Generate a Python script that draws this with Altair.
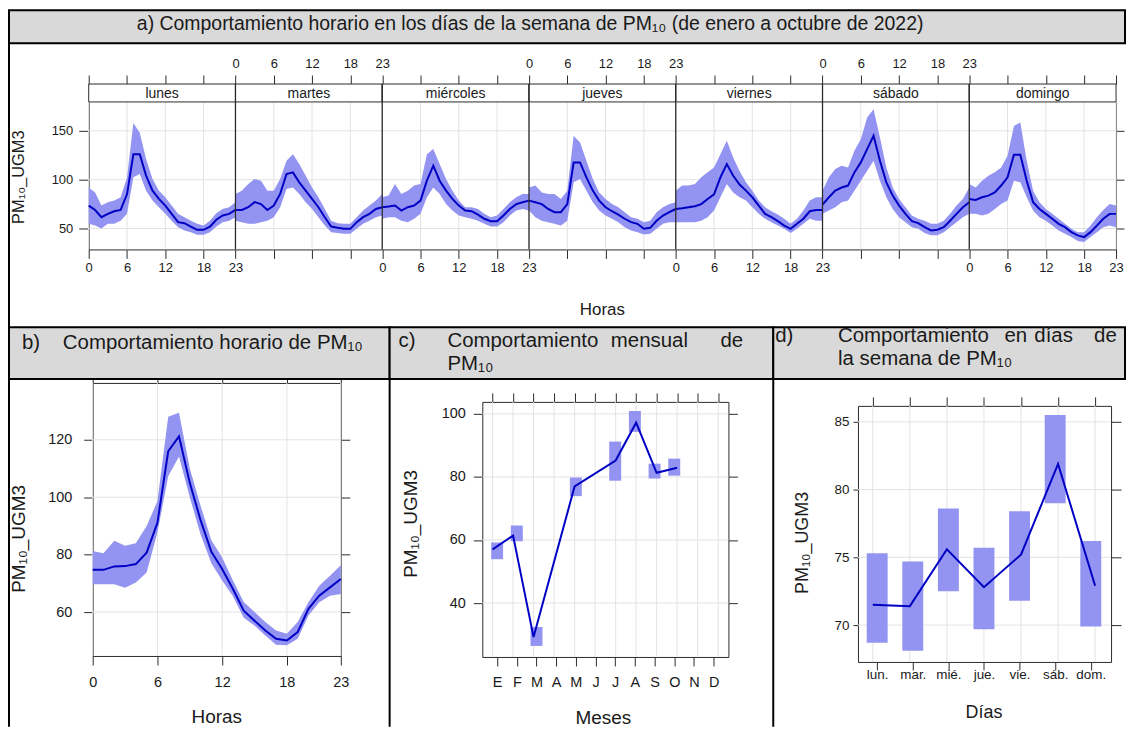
import json
import altair as alt
import pandas as pd

W, H = 1122, 720
FONT = "Liberation Sans, Arial, sans-serif"
BAND = "#9393f2"
LINE = "#0000c4"
FRAME = "#2b2b2b"
GRID = "#e3e3e3"
HEAD = "#d9d9d9"
TXT = "#1a1a1a"

# ---------------- data ----------------
dias = ["lunes", "martes", "miércoles", "jueves", "viernes", "sábado", "domingo"]
dias_cortos = ["lun.", "mar.", "mié.", "jue.", "vie.", "sáb.", "dom."]
meses_letras = ["E", "F", "M", "A", "M", "J", "J", "A", "S", "O", "N", "D"]
horas = list(range(24))

lunes_media = [73.5, 69.0, 61.6, 65.0, 67.7, 69.0, 85.0, 126.0, 126.0, 104.0, 88.8, 80.3, 73.5, 65.0, 56.5, 55.5, 52.0, 48.7, 48.7, 52.0, 59.0, 63.3, 65.0, 69.0]
lunes_inf = [54.8, 53.0, 50.0, 54.8, 54.8, 58.0, 65.0, 102.4, 105.8, 88.8, 78.6, 71.8, 65.0, 58.0, 51.4, 48.0, 46.3, 43.6, 43.6, 46.3, 52.0, 56.5, 58.0, 61.6]
lunes_sup = [92.0, 87.0, 73.5, 77.0, 78.6, 82.0, 102.0, 158.0, 148.0, 121.0, 100.7, 88.8, 82.0, 73.5, 65.0, 61.6, 58.0, 54.8, 53.0, 58.0, 65.7, 70.0, 71.8, 77.0]

martes_media = [69.0, 69.0, 71.8, 77.0, 75.0, 69.0, 73.5, 85.4, 105.8, 107.5, 97.3, 88.8, 80.3, 71.8, 61.6, 52.0, 50.7, 49.7, 49.7, 56.5, 61.6, 65.0, 70.0, 71.8]
martes_inf = [58.0, 56.5, 54.8, 54.8, 56.5, 58.0, 61.6, 71.8, 90.5, 92.0, 85.4, 77.0, 70.0, 61.6, 53.0, 46.3, 45.3, 44.6, 44.6, 49.7, 54.8, 58.0, 61.6, 63.3]
martes_sup = [85.4, 88.8, 95.6, 100.7, 99.0, 88.8, 88.8, 100.7, 119.4, 126.0, 116.0, 104.0, 92.0, 82.0, 70.0, 58.0, 55.5, 54.8, 54.8, 61.6, 68.4, 73.5, 78.6, 85.4]

miercoles_media = [71.8, 72.5, 73.5, 68.4, 71.8, 73.5, 78.6, 99.0, 114.3, 99.0, 88.8, 80.3, 73.5, 68.4, 67.7, 64.3, 60.0, 57.5, 57.5, 63.3, 70.0, 75.0, 76.9, 78.6]
miercoles_inf = [60.0, 61.6, 61.6, 58.0, 56.5, 60.0, 65.0, 82.0, 92.0, 85.4, 75.0, 68.4, 63.3, 61.6, 60.0, 58.0, 54.8, 52.0, 52.0, 56.5, 63.3, 68.4, 70.0, 68.4]
miercoles_sup = [82.0, 83.7, 95.6, 85.4, 88.8, 94.0, 95.6, 126.0, 131.3, 116.0, 100.7, 88.8, 78.6, 71.8, 71.8, 70.0, 65.0, 61.6, 63.3, 70.0, 77.0, 82.0, 85.4, 85.4]

jueves_media = [78.6, 76.9, 75.0, 70.0, 66.7, 66.7, 75.0, 117.7, 117.7, 102.4, 88.8, 78.6, 71.8, 67.7, 64.3, 60.0, 56.5, 54.8, 49.7, 50.7, 58.0, 63.3, 66.7, 70.0]
jueves_inf = [68.4, 61.6, 58.0, 56.5, 54.8, 53.0, 58.0, 97.3, 100.7, 88.8, 77.0, 68.4, 63.3, 60.0, 56.5, 51.4, 48.0, 46.3, 44.0, 44.6, 49.7, 54.8, 56.5, 56.5]
jueves_sup = [92.0, 94.0, 87.0, 85.4, 85.4, 80.3, 88.8, 145.0, 138.0, 119.4, 100.7, 87.0, 80.3, 75.0, 71.8, 66.7, 61.6, 60.0, 56.5, 58.0, 66.7, 71.8, 75.0, 76.9]

viernes_media = [70.0, 70.8, 71.8, 72.8, 75.0, 80.3, 85.0, 102.4, 116.0, 104.0, 95.0, 88.8, 82.0, 73.5, 65.0, 61.6, 57.5, 53.0, 49.7, 54.8, 60.0, 67.7, 69.0, 69.0]
viernes_inf = [56.5, 56.5, 56.5, 56.5, 58.0, 61.6, 68.4, 82.0, 95.6, 87.0, 82.0, 78.6, 71.8, 65.0, 60.0, 56.5, 53.0, 49.7, 45.3, 49.7, 54.8, 60.0, 58.0, 58.0]
viernes_sup = [88.8, 94.0, 94.0, 95.6, 102.4, 107.5, 112.6, 126.0, 140.0, 122.8, 109.0, 97.3, 88.8, 78.6, 71.8, 67.7, 64.3, 60.0, 54.8, 60.0, 68.4, 78.6, 82.0, 82.0]

sabado_media = [74.5, 82.0, 88.8, 92.0, 94.0, 107.5, 117.7, 131.3, 145.0, 119.4, 97.3, 83.7, 73.5, 65.0, 57.5, 55.5, 51.4, 48.0, 48.7, 51.4, 58.0, 65.0, 71.8, 76.9]
sabado_inf = [65.0, 68.4, 71.8, 77.0, 78.6, 88.8, 99.0, 109.2, 119.4, 99.0, 82.0, 70.0, 61.6, 56.5, 51.4, 49.7, 45.3, 43.0, 43.0, 46.3, 51.4, 56.5, 61.6, 65.0]
sabado_sup = [88.8, 102.4, 111.0, 114.3, 112.6, 129.6, 141.5, 163.6, 172.0, 143.2, 112.6, 92.0, 80.3, 71.8, 63.3, 60.0, 58.0, 54.8, 54.8, 58.0, 65.0, 73.5, 80.3, 92.0]

domingo_media = [80.3, 79.3, 82.0, 83.7, 87.0, 94.0, 102.4, 125.5, 125.5, 99.0, 77.0, 70.0, 65.0, 60.0, 54.8, 51.4, 46.3, 43.0, 41.2, 46.3, 53.0, 60.0, 65.0, 65.0]
domingo_inf = [65.0, 65.0, 63.3, 65.0, 70.0, 75.0, 78.6, 99.0, 97.3, 82.0, 68.4, 61.6, 58.0, 53.0, 48.0, 44.6, 41.2, 37.1, 36.1, 41.2, 46.3, 51.4, 53.0, 51.4]
domingo_sup = [95.6, 92.0, 99.0, 104.0, 107.5, 112.6, 124.5, 155.0, 158.5, 119.4, 88.8, 77.0, 70.0, 65.0, 60.0, 54.8, 49.7, 46.3, 46.3, 53.0, 61.6, 69.0, 75.0, 73.5]

# panel b: hourly
b_media = [74.7, 74.7, 75.9, 76.0, 76.7, 80.7, 91.1, 116.0, 121.2, 105.0, 92.0, 81.0, 75.0, 68.0, 60.5, 57.0, 53.6, 50.7, 50.1, 53.0, 61.1, 65.7, 68.6, 71.5]
b_inf = [69.7, 69.7, 69.7, 68.5, 70.3, 73.8, 87.7, 107.3, 114.2, 100.0, 87.0, 77.0, 71.0, 65.5, 58.0, 55.3, 51.8, 48.6, 48.4, 50.7, 58.8, 63.4, 65.7, 66.3]
b_sup = [81.3, 80.5, 84.8, 83.1, 84.0, 90.0, 98.6, 128.0, 129.4, 110.0, 97.0, 85.0, 79.0, 71.0, 63.5, 60.0, 56.5, 53.6, 52.4, 56.5, 63.4, 69.2, 72.6, 76.3]

# panel c: monthly
c_media = [57.0, 61.4, 29.2, None, 77.0, None, 85.2, 97.2, 81.3, 82.9, None, None]
c_inf = [53.9, 59.6, 26.4, None, 73.9, None, 78.8, 94.3, 79.5, 80.4, None, None]
c_sup = [59.2, 64.6, 32.4, None, 79.8, None, 91.2, 100.9, 84.2, 85.8, None, None]

# panel d: weekday
d_media = [71.5, 71.4, 75.6, 72.8, 75.2, 81.9, 72.9]
d_inf = [68.7, 68.1, 72.5, 69.7, 71.8, 79.0, 69.9]
d_sup = [75.3, 74.7, 78.6, 75.7, 78.4, 85.5, 76.2]

# tick values and axis limits
ticks_a_x = sorted(set(d * 23 + t for d in range(7) for t in (0, 6, 12, 18, 23)))
ticks_a_y = [50, 100, 150]
ticks_b_x = [0, 6, 12, 18, 23]
ticks_b_y = [60, 80, 100, 120]
ticks_c_x = list(range(1, 13))
ticks_c_y = [40, 60, 80, 100]
ticks_d_x = list(range(1, 8))
ticks_d_y = [70, 75, 80, 85]
lim_a_x, lim_a_y = [0, 161], [28.6, 179.6]
lim_b_x, lim_b_y = [0, 23], [44.7, 139.8]
lim_c_x, lim_c_y = [0.5, 12.5], [22.9, 103.8]
lim_d_x, lim_d_y = [0.6, 7.43], [67.28, 86.18]

# ---------------- tables ----------------
series_a = [
    (lunes_media, lunes_inf, lunes_sup),
    (martes_media, martes_inf, martes_sup),
    (miercoles_media, miercoles_inf, miercoles_sup),
    (jueves_media, jueves_inf, jueves_sup),
    (viernes_media, viernes_inf, viernes_sup),
    (sabado_media, sabado_inf, sabado_sup),
    (domingo_media, domingo_inf, domingo_sup),
]
rows = []
for d, (m, lo, hi) in enumerate(series_a):
    for h in horas:
        rows.append({"dia": dias[d], "d": d, "hora": h, "media": m[h], "inf": lo[h], "sup": hi[h]})
df_a = pd.DataFrame(rows)
df_strip = pd.DataFrame({"dia": dias, "d": list(range(7))})
df_b = pd.DataFrame({"hora": horas, "media": b_media, "inf": b_inf, "sup": b_sup})
df_c = pd.DataFrame({"mes": list(range(1, 13)), "media": c_media, "inf": c_inf, "sup": c_sup}).dropna()
df_d = pd.DataFrame({"dia": list(range(1, 8)), "media": d_media, "inf": d_inf, "sup": d_sup})
one = pd.DataFrame({"k": [0]})


# ---------------- helpers ----------------
def ax(orient, pos, values, labels=True, tick=9, pad=4, size=13, expr=None,
       title="", tsize=17, tx=None, ty=None):
    if orient in ("left", "top"):
        off = -pos
    elif orient == "right":
        off = pos - W
    else:
        off = pos - H
    kw = dict(orient=orient, offset=off, values=values, labels=labels, grid=False,
              gridOpacity=0, gridColor="transparent",
              ticks=True, tickSize=tick, tickColor=FRAME, tickWidth=1,
              labelPadding=pad, labelFontSize=size, labelFont=FONT, labelColor=TXT,
              labelOverlap=False, labelFlush=False,
              domain=True, domainColor=FRAME, domainWidth=1, title=title)
    if expr:
        kw["labelExpr"] = expr
    if title:
        kw.update(titleFontSize=tsize, titleFont=FONT, titleFontWeight="normal",
                  titleColor=TXT, titleX=tx, titleY=ty, titleBaseline="middle",
                  titleAlign="center")
    return alt.Axis(**kw)


def grid(xvals, xs, xlim, yvals, ys, ylim):
    dfx = pd.DataFrame({"v": xvals, "lo": ylim[0], "hi": ylim[1]})
    dfy = pd.DataFrame({"v": yvals, "lo": xlim[0], "hi": xlim[1]})
    gx = alt.Chart(dfx).mark_rule(color=GRID, strokeWidth=1).encode(
        x=alt.X("v:Q", scale=xs, axis=None),
        y=alt.Y("lo:Q", scale=ys, axis=None), y2="hi:Q")
    gy = alt.Chart(dfy).mark_rule(color=GRID, strokeWidth=1).encode(
        y=alt.Y("v:Q", scale=ys, axis=None),
        x=alt.X("lo:Q", scale=xs, axis=None), x2="hi:Q")
    return [gx, gy]


def rect(x, x2, y, y2, **mk):
    return alt.Chart(one).mark_rect(**mk).encode(
        x=alt.value(x), x2=alt.value(x2), y=alt.value(y), y2=alt.value(y2))


def txt(s, x, y, size, align="left"):
    return alt.Chart(one).mark_text(text=s, font=FONT, fontSize=size, align=align,
                                    baseline="middle", color=TXT).encode(
        x=alt.value(x), y=alt.value(y))


def vline(x, y, y2, w=2):
    return alt.Chart(one).mark_rule(color="black", strokeWidth=w).encode(
        x=alt.value(x), y=alt.value(y), y2=alt.value(y2))


YT = "PM₁₀_UGM3"

# ---------------- panel a ----------------
A_L, A_R, A_T, A_S, A_B = 81, 1112, 75, 93, 241
xa = alt.Scale(domain=lim_a_x, range=[A_L, A_R], nice=False, zero=False)
ya = alt.Scale(domain=lim_a_y, range=[A_B, A_S], nice=False, zero=False)
lab_bot = ("(floor(datum.value / 23) % 2 == 0 || datum.value % 23 == 0) ? "
           "(datum.value % 23 == 0 ? ((datum.value / 23) % 2 == 0 ? '0' : '23') : '' + (datum.value % 23)) : ''")
lab_top = ("((floor(datum.value / 23) % 2 == 1 && datum.value % 23 != 0) || "
           "(datum.value % 23 == 0 && datum.value > 0 && datum.value < 161)) ? "
           "(datum.value % 23 == 0 ? ((datum.value / 23) % 2 == 1 ? '0' : '23') : '' + (datum.value % 23)) : ''")

base_a = alt.Chart(df_a).transform_calculate(xg="datum.d * 23 + datum.hora")
band_a = base_a.mark_area(color=BAND, opacity=1).encode(
    x=alt.X("xg:Q", scale=xa, axis=ax("bottom", A_B, ticks_a_x, tick=9, pad=3, size=13,
                                       expr=lab_bot, title="Horas", tsize=17, tx=596, ty=60)),
    y=alt.Y("inf:Q", scale=ya, axis=ax("left", A_L, ticks_a_y, tick=10, pad=6,
                                        size=13, title=YT, tsize=16.5, tx=-70, ty=168)),
    y2="sup:Q", detail="dia:N")
line_a = base_a.mark_line(color=LINE, strokeWidth=2).encode(
    x=alt.X("xg:Q", scale=xa, axis=ax("top", A_T, ticks_a_x, tick=9, pad=5, size=13, expr=lab_top)),
    y=alt.Y("media:Q", scale=ya, axis=ax("right", A_R, ticks_a_y, labels=False, tick=8)),
    detail="dia:N")
base_s = alt.Chart(df_strip).transform_calculate(
    ini="datum.d * 23", fin="datum.d * 23 + 23", centro="datum.d * 23 + 11.5")
strip_a = base_s.mark_rect(fill="white", stroke=FRAME, strokeWidth=1).encode(
    x=alt.X("ini:Q", scale=xa, axis=None), x2="fin:Q", y=alt.value(A_T), y2=alt.value(A_S))
strip_t = base_s.mark_text(font=FONT, fontSize=14, color=TXT, baseline="middle").encode(
    x=alt.X("centro:Q", scale=xa, axis=None), y=alt.value((A_T + A_S) / 2 + 1), text="dia:N")
sep_a = base_s.transform_filter("datum.d > 0").mark_rule(color=FRAME, strokeWidth=1.3).encode(
    x=alt.X("ini:Q", scale=xa, axis=None), y=alt.value(A_T), y2=alt.value(A_B))
grid_a = grid(ticks_a_x, xa, lim_a_x, ticks_a_y, ya, lim_a_y)

# ---------------- panel b ----------------
B_L, B_R, B_T, B_B = 85, 334, 375, 649
xb = alt.Scale(domain=lim_b_x, range=[B_L, B_R], nice=False, zero=False)
yb = alt.Scale(domain=lim_b_y, range=[B_B, B_T], nice=False, zero=False)
band_b = alt.Chart(df_b).mark_area(color=BAND).encode(
    x=alt.X("hora:Q", scale=xb, axis=ax("bottom", B_B, ticks_b_x, tick=9, pad=11, size=14.5,
                                         title="Horas", tsize=19, tx=209, ty=61)),
    y=alt.Y("inf:Q", scale=yb, axis=ax("left", B_L, ticks_b_y, tick=9, pad=12,
                                        size=14.5, title=YT, tsize=19, tx=-74, ty=531)),
    y2="sup:Q")
line_b = alt.Chart(df_b).mark_line(color=LINE, strokeWidth=2).encode(
    x=alt.X("hora:Q", scale=xb, axis=ax("top", B_T, ticks_b_x, labels=False, tick=10)),
    y=alt.Y("media:Q", scale=yb, axis=ax("right", B_R, ticks_b_y, labels=False, tick=9)))
grid_b = grid(ticks_b_x, xb, lim_b_x, ticks_b_y, yb, lim_b_y)

# ---------------- panel c ----------------
C_L, C_R, C_T, C_B = 476, 723, 394, 650
xc = alt.Scale(domain=lim_c_x, range=[C_L, C_R], nice=False, zero=False)
yc = alt.Scale(domain=lim_c_y, range=[C_B, C_T], nice=False, zero=False)
expr_c = json.dumps(meses_letras, ensure_ascii=False) + "[datum.value - 1]"
bars_c = alt.Chart(df_c).mark_bar(color=BAND, size=12).encode(
    x=alt.X("mes:Q", scale=xc, axis=ax("bottom", C_B, ticks_c_x, tick=9, pad=10, size=14.5,
                                        expr=expr_c, title="Meses", tsize=19, tx=597, ty=61)),
    y=alt.Y("inf:Q", scale=yc, axis=ax("left", C_L, ticks_c_y, tick=9, pad=8,
                                        size=14.5, title=YT, tsize=19, tx=-72, ty=516)),
    y2="sup:Q")
line_c = alt.Chart(df_c).mark_line(color=LINE, strokeWidth=2).encode(
    x=alt.X("mes:Q", scale=xc, axis=ax("top", C_T, ticks_c_x, labels=False, tick=9)),
    y=alt.Y("media:Q", scale=yc, axis=ax("right", C_R, ticks_c_y, labels=False, tick=9)))
grid_c = grid(ticks_c_x, xc, lim_c_x, ticks_c_y, yc, lim_c_y)

# ---------------- panel d ----------------
D_L, D_R, D_T, D_B = 853, 1107, 398, 655
xd = alt.Scale(domain=lim_d_x, range=[D_L, D_R], nice=False, zero=False)
yd = alt.Scale(domain=lim_d_y, range=[D_B, D_T], nice=False, zero=False)
expr_d = json.dumps(dias_cortos, ensure_ascii=False) + "[datum.value - 1]"
bars_d = alt.Chart(df_d).mark_bar(color=BAND, size=21).encode(
    x=alt.X("dia:Q", scale=xd, axis=ax("bottom", D_B, ticks_d_x, tick=8, pad=-2, size=13.5,
                                        expr=expr_d, title="Días", tsize=18, tx=979, ty=51)),
    y=alt.Y("inf:Q", scale=yd, axis=ax("left", D_L, ticks_d_y, tick=5, pad=4,
                                        size=13.5, title=YT, tsize=18, tx=-56, ty=535)),
    y2="sup:Q")
line_d = alt.Chart(df_d).mark_line(color=LINE, strokeWidth=2).encode(
    x=alt.X("dia:Q", scale=xd, axis=ax("top", D_T, ticks_d_x, labels=False, tick=9)),
    y=alt.Y("media:Q", scale=yd, axis=ax("right", D_R, ticks_d_y, labels=False, tick=10)))
grid_d = grid(ticks_d_x, xd, lim_d_x, ticks_d_y, yd, lim_d_y)

# ---------------- decoration ----------------
HY0, HY1 = 319, 371
deco = [
    rect(1, W - 1, 1, 34, fill=HEAD, stroke="black", strokeWidth=2),
    rect(1, 383, HY0, HY1, fill=HEAD, stroke="black", strokeWidth=2),
    rect(383, 768, HY0, HY1, fill=HEAD, stroke="black", strokeWidth=2),
    rect(768, W - 1, HY0, HY1, fill=HEAD, stroke="black", strokeWidth=2),
    vline(1, 34, HY0),
    vline(1, HY1, H),
    vline(383, HY1, H),
    vline(768, HY1, H),
]
texts = [
    txt("a)  Comportamiento horario en los días de la semana de PM₁₀ (de enero a octubre de 2022)",
        524, 15, 19.5, align="center"),
    txt("b)", 14, 335, 20.5),
    txt("Comportamiento horario de PM₁₀", 55, 335, 20.5),
    txt("c)", 392, 333, 20.5),
    txt("Comportamiento", 441, 333, 20.5),
    txt("mensual", 605, 333, 20.5),
    txt("de", 715, 333, 20.5),
    txt("PM₁₀", 441, 356, 20.5),
    txt("d)", 770, 328, 20.5),
    txt("Comportamiento", 833, 328, 20.5),
    txt("en", 1000, 328, 20.5),
    txt("días", 1030, 328, 20.5),
    txt("de", 1090, 328, 20.5),
    txt("la semana de PM₁₀", 833, 351, 20.5),
]

layers = (deco + grid_a + grid_b + grid_c + grid_d
          + [band_a, line_a, strip_a, strip_t, sep_a,
             band_b, line_b, bars_c, line_c, bars_d, line_d] + texts)

chart = alt.layer(*layers).resolve_scale(
    x="independent", y="independent"
).resolve_axis(
    x="independent", y="independent"
).properties(
    width=W, height=H, padding=0, background="white",
    autosize=alt.AutoSizeParams(type="none")
).configure_view(strokeWidth=0).configure_axis(grid=False, gridOpacity=0)

chart.save("out.html", embed_options={"renderer": "svg", "actions": False})
